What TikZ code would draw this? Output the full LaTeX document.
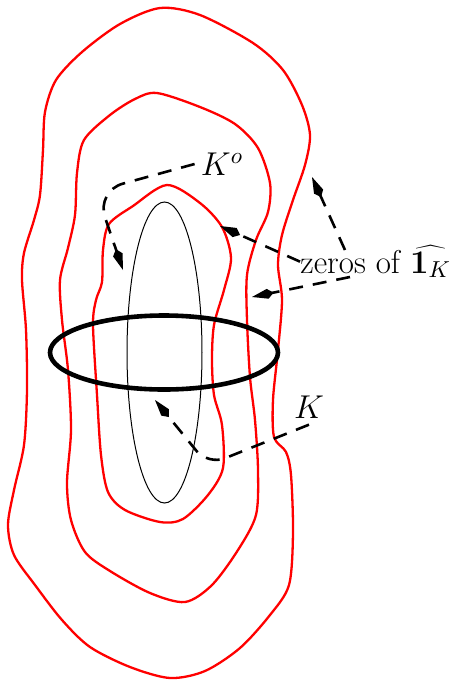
\documentclass[tikz,border=0pt]{standalone}
\usepackage{fix-cm}
\usetikzlibrary{shapes.geometric, arrows.meta, calc}
\definecolor{cLevel}{RGB}{255, 0, 0}
\definecolor{tDark}{RGB}{0, 0, 0}

\begin{document}
\begin{tikzpicture}[
    x=0.5pt, y=-0.5pt,
    font=\fontsize{16.5}{19}\selectfont,
    level/.style={draw=cLevel, line width=1.15pt},
    pointer/.style={draw=tDark, line width=1.3pt, dash pattern=on 7pt off 5pt,
        rounded corners=9pt, -{Kite[length=11pt, width=5pt, inset=3pt]}},
    lbl/.style={inner sep=3pt, text=tDark}
]
\useasboundingbox (0,0) rectangle (452,682);

% Level curves
\draw[level] plot[smooth cycle, tension=0.5] coordinates {
    (160,8) (200,15) (253,43) (283,70) (302,105) (310,135) (305,165)
    (293,200) (282,235) (278,265) (282,300) (278,350) (273,400) (274,437)
    (286,452) (291,475) (293,533) (289,585) (270,615) (240,648) (205,671)
    (170,678) (130,667) (90,647) (62,620) (35,585) (14,555) (8,525)
    (14,490) (24,445) (27,390) (26,330) (22,280) (24,253) (34,220)
    (40,195) (43,150) (45,112) (56,80) (82,52) (120,24)};
\draw[level] plot[smooth cycle, tension=0.5] coordinates {
    (157,93) (200,107) (235,124) (258,148) (270,183) (268,212) (256,240)
    (247,275) (247,320) (250,377) (255,420) (258,470) (256,515) (238,550)
    (212,585) (185,602) (150,593) (110,571) (85,552) (71,520) (67,483)
    (71,430) (68,370) (62,320) (60,280) (68,248) (75,215) (77,173)
    (84,140) (110,115) (135,99)};
\draw[level] plot[smooth cycle, tension=0.5] coordinates {
    (167,185) (200,203) (222,227) (231,258) (224,290) (214,325) (212,360)
    (214,395) (222,425) (223,468) (208,495) (183,519) (160,522) (125,510)
    (108,492) (101,455) (97,395) (93,325) (96,300) (102,282) (103,250)
    (109,224) (133,206)};

% The two sets
\node[draw=tDark, line width=0.5pt, ellipse, minimum width=37.5pt, minimum height=150.5pt,
      inner sep=0pt] (kzeroset) at (164.5,352.5) {};
\draw[draw=tDark, line width=2.3pt] (164,352.5) ellipse [x radius=114, y radius=37];

% Labels
\node[lbl] (kzero) at (222,164) {$K^o$};
\node[lbl] (kset) at (309,407) {$K$};
\node[lbl, inner sep=0pt, anchor=base west] (zeros) at (300,273)
    {zeros of $\widehat{\mathbf{1}_K}$};

% Pointed spots
\coordinate (tKo) at (123,270);
\coordinate (bKo) at (96,191);
\coordinate (tK) at (155,400);
\coordinate (bK) at (208,465);
\coordinate (zOuter) at (312,177);
\coordinate (zInner) at (220,226);
\coordinate (zMid) at (252,297);

\draw[pointer, rounded corners=14pt] (kzero.west) -- (bKo) -- (tKo);
\draw[pointer] (kset.south) -- (bK) -- (tK);
\draw[pointer] ($(zeros.base west)+(45,-23)$) -- (zOuter);
\draw[pointer] (zeros.west) -- (zInner);
\draw[pointer] ($(zeros.base west)+(50,4)$) -- (zMid);

\end{tikzpicture}
\end{document}
